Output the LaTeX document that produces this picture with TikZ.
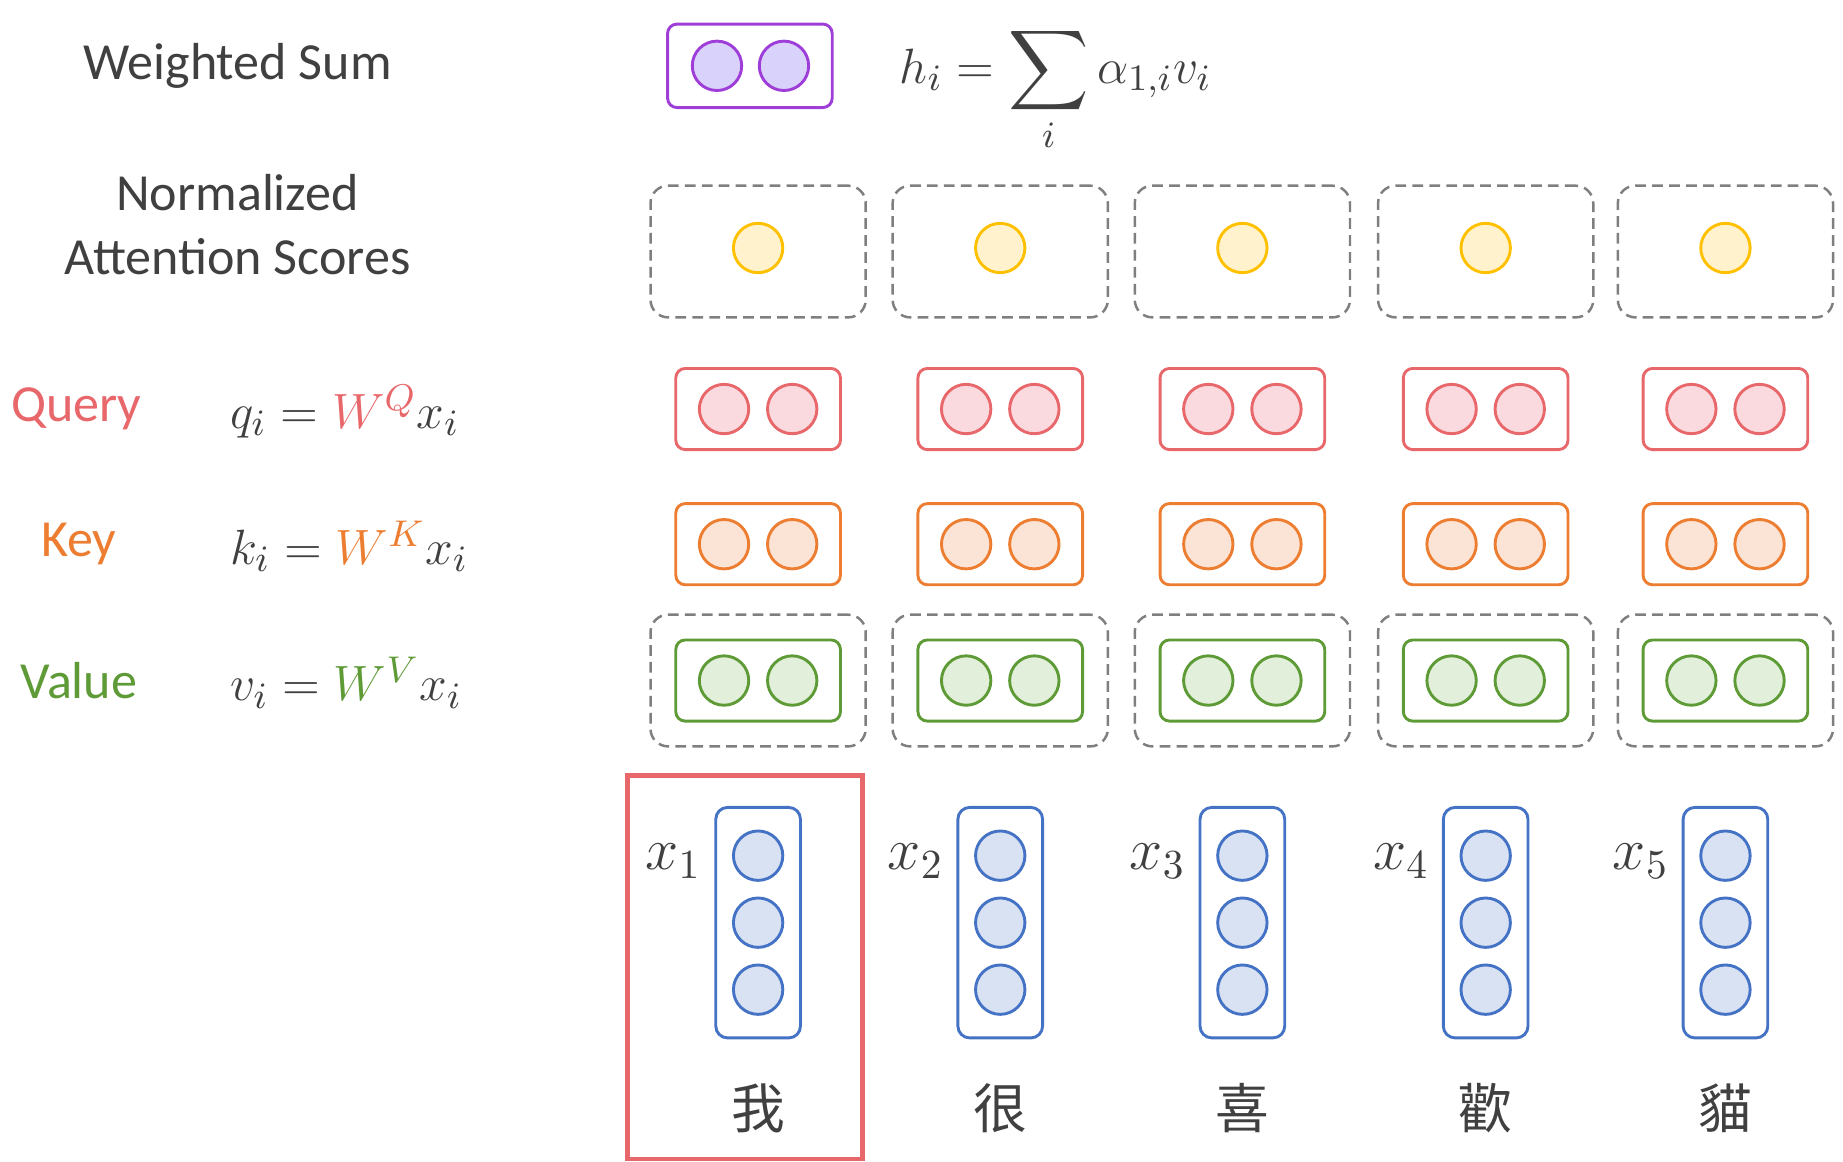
\documentclass[tikz,border=0pt]{standalone}
\usepackage{fontspec}
\setmainfont{Carlito}
\newfontfamily\cjk{Noto Sans CJK TC}
\usepackage{xcolor}
\usetikzlibrary{positioning}
\definecolor{txt}{HTML}{404040}
\definecolor{grayline}{HTML}{7F7F7F}
\definecolor{pline}{HTML}{9E3DD8}\definecolor{pfill}{HTML}{D9D2FB}
\definecolor{yline}{HTML}{FFC000}\definecolor{yfill}{HTML}{FFF2CC}
\definecolor{qline}{HTML}{E8676B}\definecolor{qfill}{HTML}{FADADE}
\definecolor{kline}{HTML}{ED7D31}\definecolor{kfill}{HTML}{FBE4D5}
\definecolor{vline}{HTML}{5E9B37}\definecolor{vfill}{HTML}{E2EFDA}
\definecolor{bline}{HTML}{4472C4}\definecolor{bfill}{HTML}{D9E2F3}
\tikzset{
  vbox/.style={draw=#1, line width=0.7pt, rounded corners=0.8mm,
               minimum width=1.40cm, minimum height=0.69cm, inner sep=0pt},
  xbox/.style={draw=bline, line width=0.7pt, rounded corners=1mm,
               minimum width=0.72cm, minimum height=1.96cm, inner sep=0pt},
  neuron/.style={circle, draw=#1line, fill=#1fill, line width=0.7pt,
                 minimum size=0.42cm, inner sep=0pt},
  dashbox/.style={draw=grayline, dashed, dash pattern=on 2.6pt off 1.5pt,
                  line width=0.6pt, rounded corners=1.5mm,
                  minimum width=1.83cm, minimum height=1.12cm, inner sep=0pt},
  hilite/.style={draw=qline, line width=1.15pt, minimum width=2.0cm,
                 minimum height=3.26cm, inner sep=0pt},
  lbl/.style={text=txt, font=\fontsize{12.6}{15.6}\selectfont, align=center, inner sep=0pt},
  eq/.style={text=txt, font=\fontsize{13.2}{16}\selectfont, inner sep=0pt},
  word/.style={text=txt, font=\cjk\fontsize{13}{15}\selectfont, inner sep=0pt},
}
\newcommand{\bigsum}{\mathop{\vcenter{\hbox{\scalebox{1.35}{$\displaystyle\sum$}}}}\limits}
\begin{document}
\begin{tikzpicture}[x=0.01cm, y=-0.01cm]
  \useasboundingbox (0,0) rectangle (1568,988);
  % row labels
  \node[lbl] (ws)  at (202,56)  {Weighted Sum};
  \node[lbl] (nas) at (202,191) {Normalized\\Attention Scores};
  \node[lbl, text=qline] (ql) at (65,348) {Query};
  \node[lbl, text=kline] (kl) at (67,463) {Key};
  \node[lbl, text=vline] (vl) at (67,579) {Value};
  \node[eq, anchor=west] (qe) at (195,350) {$q_i = {\color{qline}W^Q} x_i$};
  \node[eq, anchor=west] (ke) at (195,465) {$k_i = {\color{kline}W^K} x_i$};
  \node[eq, anchor=west] (ve) at (195,581) {$v_i = {\color{vline}W^V} x_i$};
  % weighted sum
  \node[vbox=pline, minimum height=0.71cm] (h) at (638,56) {};
  \node[neuron=p] (h-a) at (610,56) {};
  \node[neuron=p] (h-b) at (667,56) {};
  \node[eq, anchor=base west] (he) at (765,71)
    {$\displaystyle h_i = \smash{\bigsum_i}\, \alpha_{1,i} v_i$};
  % one column per token
  \foreach \i/\c/\w in {1/645/我, 2/851/很, 3/1057/喜, 4/1264/歡, 5/1468/貓} {
    \node[dashbox] (s\i) at (\c,214) {};
    \node[neuron=y] (a\i) at (\c,211) {};
    \node[vbox=qline] (q\i) at (\c,348) {};
    \node[neuron=q] (q\i-a) at (\c-29,348) {};
    \node[neuron=q] (q\i-b) at (\c+29,348) {};
    \node[vbox=kline] (k\i) at (\c,463) {};
    \node[neuron=k] (k\i-a) at (\c-29,463) {};
    \node[neuron=k] (k\i-b) at (\c+29,463) {};
    \node[dashbox] (d\i) at (\c,579) {};
    \node[vbox=vline] (v\i) at (\c,579) {};
    \node[neuron=v] (v\i-a) at (\c-29,579) {};
    \node[neuron=v] (v\i-b) at (\c+29,579) {};
    \node[xbox] (x\i) at (\c,785) {};
    \foreach \k/\y in {1/728, 2/785, 3/842}
      \node[neuron=b] (x\i-\k) at (\c,\y) {};
    \node[eq, font=\fontsize{14}{16}\selectfont] (xl\i) at (\c-72,733) {$x_{\i}$};
    \node[word] (w\i) at (\c,943) {\w};
  }
  \node[hilite] (sel) at (634,823) {};
\end{tikzpicture}
\end{document}
